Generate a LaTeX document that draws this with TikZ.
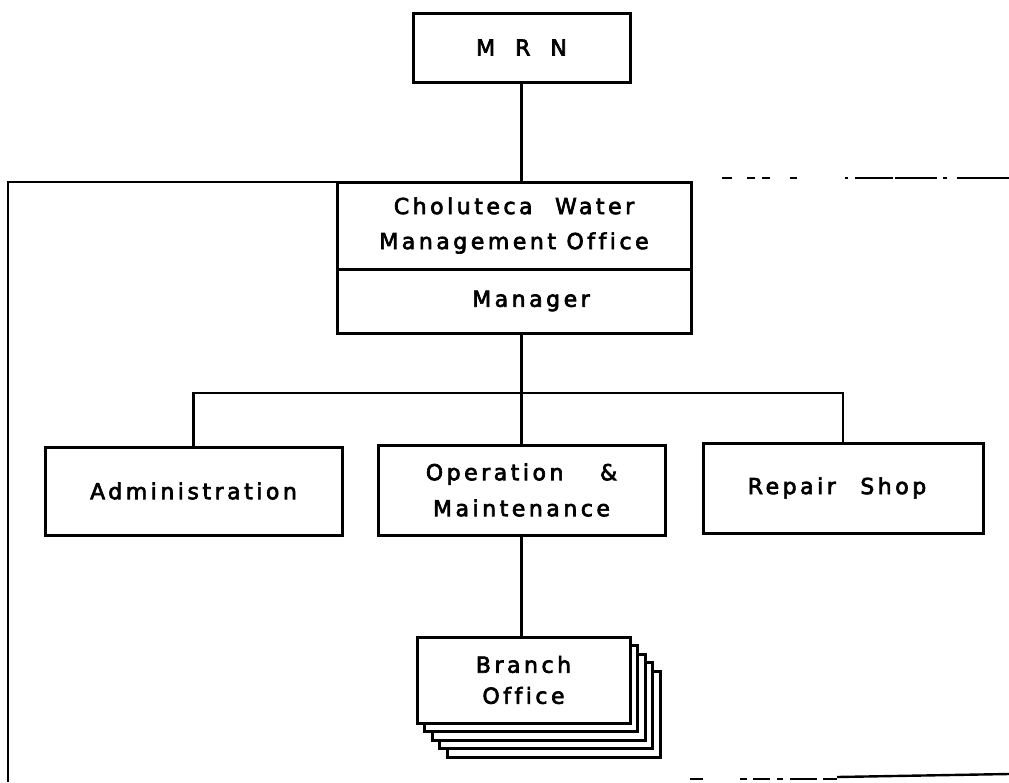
\documentclass[tikz,border=0pt]{standalone}
\usepackage{fontspec}
\setmainfont{DejaVu Sans}[LetterSpace=16,FakeBold=3,Ligatures=NoCommon]
\begin{document}
\begin{tikzpicture}[x=1pt,y=-1pt,
  box/.style={draw,line width=3pt,fill=white,inner sep=0pt,align=center,
    font=\fontsize{22}{35}\selectfont},
  conn/.style={line width=2.8pt},
  frameline/.style={line width=2.4pt}]
\useasboundingbox (0,0) rectangle (1009,782);
% frame
\draw[frameline] (337,182) -- (8,182) -- (8,782);
\foreach \a/\b in {722/732,747/755,762/770,790/797,845/848,855/893,895/937,943/947,957/1009}
  \draw[frameline] (\a,178) -- (\b,178);
\foreach \a/\b in {690/703,740/747,753/770,777/783,790/817,823/837}
  \draw[frameline] (\a,779) -- (\b,779);
\draw[frameline] (837,777) -- (1009,774);
% nodes
\node[box,minimum width=217pt,minimum height=69pt] (mrn) at (521.5,47.5) {M\hspace{20pt}R\hspace{20pt}N};
\node[box,minimum width=354pt,minimum height=87pt] (cwm) at (514,225.5) {Choluteca\hspace{12pt} Water\\Management Office};
\node[box,minimum width=354pt,minimum height=64pt] (mgr) at (514,301) {\hspace{34pt}Manager};
\node[box,minimum width=297pt,minimum height=88pt] (adm) at (193.5,491) {Administration};
\node[box,minimum width=287pt,minimum height=90pt,font=\fontsize{22}{36}\selectfont] (ops) at (521.5,490) {Operation\hspace{26pt} \&\\Maintenance};
\node[box,minimum width=280pt,minimum height=90pt] (rep) at (843,488) {\hspace{-12pt}Repair\hspace{14pt} Shop};
\foreach \k in {4,3,2,1}
  \node[box,minimum width=213pt,minimum height=86pt] (br\k) at (523.5+7.5*\k,680+8.5*\k) {};
\node[box,minimum width=213pt,minimum height=86pt,font=\fontsize{22}{31}\selectfont] (br) at (523.5,680) {Branch\\Office};
% connectors
\coordinate (bus) at (0,393);
\draw[conn] (mrn.south) -- (mrn.south |- cwm.north);
\draw[conn] (mgr.south -| ops.north) -- (ops.north);
\draw[conn] (adm.north) |- (bus -| rep.north) -- (rep.north);
\draw[conn] (ops.south) -- (ops.south |- br.north);
\end{tikzpicture}
\end{document}
